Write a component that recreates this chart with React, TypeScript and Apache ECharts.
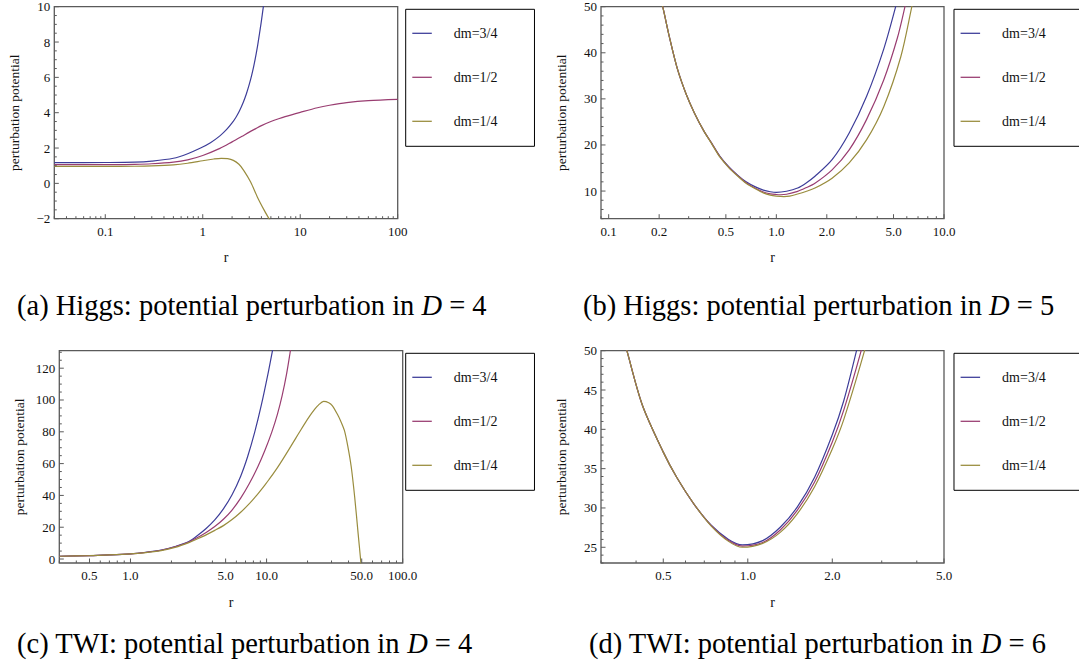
import React, { useEffect, useRef } from 'react';
import * as echarts from 'echarts';

const SERIES_NAMES = ['dm=3/4', 'dm=1/2', 'dm=1/4'];
const COLORS = ['#3d3d99', '#993d71', '#998c3d'];
const FONT = 'Liberation Serif';

// (a) Higgs, D = 4 : [r, V]
const higgsD4_34 = [[0.03, 1.17], [0.1, 1.18], [0.2, 1.2], [0.3, 1.26], [0.5, 1.42], [0.7, 1.68], [0.95, 2.0], [1.2, 2.3], [1.5, 2.69], [1.75, 3.04], [2.0, 3.42], [2.2, 3.76], [2.37, 4.08], [2.6, 4.58], [2.8, 5.06], [3.0, 5.6], [3.17, 6.1], [3.32, 6.58], [3.45, 7.03], [3.58, 7.51], [3.7, 7.98], [3.83, 8.51], [3.95, 9.0], [4.07, 9.51], [4.18, 9.98], [4.35, 10.74]];
const higgsD4_12 = [[0.03, 1.06], [0.1, 1.06], [0.2, 1.08], [0.3, 1.11], [0.5, 1.2], [0.7, 1.33], [1, 1.58], [1.5, 1.98], [2, 2.35], [2.5, 2.65], [3, 2.9], [3.5, 3.1], [4, 3.27], [5, 3.5], [6, 3.66], [7, 3.78], [10, 4.02], [15, 4.28], [20, 4.42], [30, 4.57], [50, 4.68], [100, 4.75]];
const higgsD4_14 = [[0.03, 0.96], [0.1, 0.96], [0.2, 0.97], [0.3, 0.99], [0.5, 1.05], [0.7, 1.14], [1, 1.28], [1.3, 1.38], [1.55, 1.42], [1.8, 1.4], [2.06, 1.3], [2.35, 1.08], [2.63, 0.74], [3.1, 0.08], [3.64, -0.78], [4.28, -1.53], [4.9, -2.1]];

// (b) Higgs, D = 5
const higgsD5_34 = [[0.205, 51], [0.21, 50], [0.23, 43.5], [0.257, 36.5], [0.29, 31], [0.325, 26.9], [0.37, 23], [0.411, 20.4], [0.46, 17.6], [0.52, 15.3], [0.59, 13.4], [0.66, 12.0], [0.75, 10.9], [0.836, 10.2], [0.92, 9.85], [1.0, 9.7], [1.15, 9.95], [1.34, 10.65], [1.5, 11.7], [1.7, 13.2], [2.15, 16.8], [2.72, 22.6], [3.45, 30.5], [4.37, 40.8], [5.15, 50], [5.3, 52]];
const higgsD5_12 = [[0.205, 51], [0.21, 50], [0.23, 43.5], [0.257, 36.5], [0.29, 31], [0.325, 26.9], [0.37, 23], [0.411, 20.4], [0.46, 17.5], [0.52, 15.2], [0.59, 13.3], [0.66, 11.8], [0.75, 10.6], [0.836, 9.8], [0.92, 9.4], [1.0, 9.25], [1.06, 9.2], [1.15, 9.3], [1.34, 9.93], [1.5, 10.7], [1.7, 11.7], [2.15, 14.6], [2.72, 18.95], [3.45, 25.5], [4.37, 34.1], [5.27, 43.2], [5.85, 50], [6.0, 52]];
const higgsD5_14 = [[0.205, 51], [0.21, 50], [0.23, 43.5], [0.257, 36.5], [0.29, 31], [0.325, 26.9], [0.37, 23], [0.411, 20.3], [0.46, 17.4], [0.52, 15.1], [0.59, 13.2], [0.66, 11.7], [0.75, 10.5], [0.836, 9.6], [0.92, 9.1], [1.0, 8.9], [1.11, 8.8], [1.2, 8.9], [1.34, 9.35], [1.5, 9.9], [1.7, 10.65], [2.15, 12.8], [2.72, 16.1], [3.45, 21.1], [4.37, 28.3], [5.53, 39.2], [6.43, 50], [6.6, 52]];

// (c) TWI, D = 4
const twiD4_34 = [[0.3, 1.75], [0.5, 2.1], [0.7, 2.6], [1, 3.3], [1.256, 4.1], [1.68, 5.6], [2.125, 7.9], [2.685, 11], [3.108, 14.8], [3.596, 19.2], [4.162, 24.6], [4.817, 31.5], [5.575, 40.4], [6.452, 52.1], [7.252, 64.3], [8.152, 79.3], [9.163, 97.1], [10.3, 117.6], [11.11, 132.1], [11.3, 136]];
const twiD4_12 = [[0.3, 1.75], [0.5, 2.1], [0.7, 2.6], [1, 3.3], [1.256, 4.05], [1.68, 5.5], [2.125, 7.7], [2.685, 10.7], [3.108, 13.5], [3.596, 16.7], [4.162, 20.4], [4.817, 25.0], [5.575, 30.8], [6.452, 38.3], [7.47, 47.5], [8.64, 58.2], [9.71, 68.2], [10.92, 79.8], [11.99, 90.8], [13.01, 102.7], [14.04, 116.6], [14.88, 129.7], [15.2, 135]];
const twiD4_14 = [[0.3, 1.75], [0.5, 2.1], [0.7, 2.55], [1, 3.2], [1.256, 3.9], [1.68, 5.3], [2.125, 7.3], [2.685, 10.3], [3.108, 12.7], [3.596, 15.2], [4.162, 18], [4.817, 21], [5.575, 24.8], [6.452, 29.4], [7.47, 34.8], [8.39, 39.7], [9.71, 46.5], [10.42, 50.0], [11.57, 55.4], [12.63, 60.3], [13.79, 65.5], [15.06, 70.8], [16.44, 76.2], [17.42, 79.7], [19.02, 85.0], [20.77, 90.0], [22.67, 94.4], [24.03, 96.8], [26.23, 99.1], [28.63, 98.3], [30.36, 96.5], [33.14, 91], [35.14, 86.5], [37.25, 81], [39.49, 71], [41.86, 58], [44.38, 39], [47.05, 16], [49.02, 0], [49.89, -7]];

// (d) TWI, D = 6
const twiD6_34 = [[0.365, 51], [0.371, 50], [0.421, 43.1], [0.5, 37.1], [0.558, 33.9], [0.643, 30.5], [0.741, 27.8], [0.854, 26.0], [0.956, 25.3], [1.13, 25.85], [1.305, 27.55], [1.5, 30.1], [1.73, 33.9], [2.0, 39.3], [2.2, 43.7], [2.44, 50], [2.47, 51]];
const twiD6_12 = [[0.365, 51], [0.371, 50], [0.421, 43.1], [0.5, 37.1], [0.558, 33.9], [0.643, 30.5], [0.741, 27.75], [0.854, 25.85], [0.956, 25.15], [1.13, 25.6], [1.305, 27.2], [1.5, 29.7], [1.73, 33.3], [2.0, 38.4], [2.2, 42.5], [2.535, 50], [2.56, 51]];
const twiD6_14 = [[0.365, 51], [0.371, 50], [0.421, 43.1], [0.5, 37.1], [0.558, 33.9], [0.643, 30.5], [0.741, 27.7], [0.854, 25.75], [0.956, 25.0], [1.13, 25.5], [1.305, 26.9], [1.5, 29.25], [1.73, 32.7], [2.0, 37.5], [2.2, 41.3], [2.606, 50], [2.63, 51]];

// Tick values and labels
const xMajorA = [0.1, 1, 10, 100];
const xLabelsA = ['0.1', '1', '10', '100'];
const xMinorA = [0.03, 0.04, 0.05, 0.06, 0.07, 0.08, 0.09, 0.2, 0.3, 0.4, 0.5, 0.6, 0.7, 0.8, 0.9, 2, 3, 4, 5, 6, 7, 8, 9, 20, 30, 40, 50, 60, 70, 80, 90];
const yMajorA = [-2, 0, 2, 4, 6, 8, 10];
const yLabelsA = ['\u22122', '0', '2', '4', '6', '8', '10'];
const yMinorA = [-1.5, -1, -0.5, 0.5, 1, 1.5, 2.5, 3, 3.5, 4.5, 5, 5.5, 6.5, 7, 7.5, 8.5, 9, 9.5];

const xMajorB = [0.1, 0.2, 0.5, 1, 2, 5, 10];
const xLabelsB = ['0.1', '0.2', '0.5', '1.0', '2.0', '5.0', '10.0'];
const xMinorB = [0.09, 0.3, 0.4, 0.6, 0.7, 0.8, 0.9, 3, 4, 6, 7, 8, 9];
const yMajorB = [10, 20, 30, 40, 50];
const yLabelsB = ['10', '20', '30', '40', '50'];
const yMinorB = [4, 6, 8, 12, 14, 16, 18, 22, 24, 26, 28, 32, 34, 36, 38, 42, 44, 46, 48];

const xMajorC = [0.5, 1, 5, 10, 50, 100];
const xLabelsC = ['0.5', '1.0', '5.0', '10.0', '50.0', '100.0'];
const xMinorC = [0.3, 0.4, 0.6, 0.7, 0.8, 0.9, 2, 3, 4, 6, 7, 8, 9, 20, 30, 40, 60, 70, 80, 90];
const yMajorC = [0, 20, 40, 60, 80, 100, 120];
const yLabelsC = ['0', '20', '40', '60', '80', '100', '120'];
const yMinorC = [5, 10, 15, 25, 30, 35, 45, 50, 55, 65, 70, 75, 85, 90, 95, 105, 110, 115, 125, 130];

const xMajorD = [0.5, 1, 2, 5];
const xLabelsD = ['0.5', '1.0', '2.0', '5.0'];
const xMinorD = [0.3, 0.4, 0.6, 0.7, 0.8, 0.9, 3, 4];
const yMajorD = [25, 30, 35, 40, 45, 50];
const yLabelsD = ['25', '30', '35', '40', '45', '50'];
const yMinorD = [23, 24, 26, 27, 28, 29, 31, 32, 33, 34, 36, 37, 38, 39, 41, 42, 43, 44, 46, 47, 48, 49];

const CAPTIONS = [
  '(a) Higgs: potential perturbation in {it|D} = 4',
  '(b) Higgs: potential perturbation in {it|D} = 5',
  '(c) TWI: potential perturbation in {it|D} = 4',
  '(d) TWI: potential perturbation in {it|D} = 6',
];

type Tick = { axis: 'x' | 'y'; v: number; major: boolean; label?: string };

function buildTicks(xMaj: number[], xLab: string[], xMin: number[], yMaj: number[], yLab: string[], yMin: number[]): Tick[] {
  const t: Tick[] = [];
  xMaj.forEach((v, i) => t.push({ axis: 'x', v, major: true, label: xLab[i] }));
  xMin.forEach((v) => t.push({ axis: 'x', v, major: false }));
  yMaj.forEach((v, i) => t.push({ axis: 'y', v, major: true, label: yLab[i] }));
  yMin.forEach((v) => t.push({ axis: 'y', v, major: false }));
  return t;
}

const FRAME = '#5a5a5a';

// Inward frame ticks and their labels, placed through the panel's own scales
function tickSeries(idx: number, ticks: Tick[], xLo: number, yLo: number) {
  return {
    type: 'custom',
    xAxisIndex: idx,
    yAxisIndex: idx,
    silent: true,
    clip: false,
    z: 5,
    data: ticks.map((t) => (t.axis === 'x' ? [t.v, yLo] : [xLo, t.v])),
    renderItem: (params: any, api: any) => {
      const t = ticks[params.dataIndex];
      const p = api.coord([api.value(0), api.value(1)]);
      const len = t.major ? 4.5 : 2.5;
      const isX = t.axis === 'x';
      const children: any[] = [
        {
          type: 'line',
          shape: { x1: p[0], y1: p[1], x2: isX ? p[0] : p[0] + len, y2: isX ? p[1] - len : p[1] },
          style: { stroke: FRAME, lineWidth: 1 },
        },
      ];
      if (t.label) {
        children.push({
          type: 'text',
          style: {
            text: t.label,
            x: isX ? p[0] : p[0] - 4,
            y: isX ? p[1] + 6 : p[1],
            align: isX ? 'center' : 'right',
            verticalAlign: isX ? 'top' : 'middle',
            fontSize: 13,
            fontFamily: FONT,
            fill: '#111',
          },
        });
      }
      return { type: 'group', children };
    },
  };
}

const PANELS = [
  { grid: { left: 54.3, top: 6.7, width: 343.4, height: 212 }, x: [0.03, 100], y: [-2, 10], legend: [405.7, 9.3], data: [higgsD4_34, higgsD4_12, higgsD4_14], ticks: buildTicks(xMajorA, xLabelsA, xMinorA, yMajorA, yLabelsA, yMinorA) },
  { grid: { left: 601, top: 6.7, width: 343, height: 212 }, x: [0.09, 10], y: [4, 50], legend: [954, 9.3], data: [higgsD5_34, higgsD5_12, higgsD5_14], ticks: buildTicks(xMajorB, xLabelsB, xMinorB, yMajorB, yLabelsB, yMinorB) },
  { grid: { left: 59.3, top: 350.7, width: 343.4, height: 212.3 }, x: [0.3, 100], y: [-2.5, 131], legend: [405.7, 353.3], data: [twiD4_34, twiD4_12, twiD4_14], ticks: buildTicks(xMajorC, xLabelsC, xMinorC, yMajorC, yLabelsC, yMinorC) },
  { grid: { left: 601, top: 350.7, width: 343, height: 212.3 }, x: [0.3, 5], y: [23, 50], legend: [954, 353.3], data: [twiD6_34, twiD6_12, twiD6_14], ticks: buildTicks(xMajorD, xLabelsD, xMinorD, yMajorD, yLabelsD, yMinorD) },
];

const CAPTION_POS = [
  [17, 291],
  [583, 291],
  [17, 629],
  [589, 629],
];

const LEGEND_LINE = 'path://M0 0 H20 V1.3 H0 Z';

export default function App() {
  const ref = useRef<HTMLDivElement>(null);

  useEffect(() => {
    if (!ref.current) return;
    const chart = echarts.init(ref.current, undefined, { renderer: 'svg' });

    const grid = PANELS.map((p) => ({
      ...p.grid,
      show: true,
      borderColor: FRAME,
      borderWidth: 1.3,
      backgroundColor: 'transparent',
      containLabel: false,
    }));

    const xAxis = PANELS.map((p, i) => ({
      type: 'log',
      logBase: 10,
      gridIndex: i,
      min: p.x[0],
      max: p.x[1],
      name: 'r',
      nameLocation: 'middle',
      nameGap: 32,
      nameTextStyle: { fontFamily: FONT, fontSize: 14, color: '#111' },
      axisLine: { show: false },
      axisTick: { show: false },
      axisLabel: { show: false },
      splitLine: { show: false },
      minorTick: { show: false },
    }));

    const yAxis = PANELS.map((p, i) => ({
      type: 'value',
      gridIndex: i,
      min: p.y[0],
      max: p.y[1],
      name: 'perturbation potential',
      nameLocation: 'middle',
      nameGap: 33,
      nameTextStyle: { fontFamily: FONT, fontSize: 13.5, color: '#111' },
      axisLine: { show: false },
      axisTick: { show: false },
      axisLabel: { show: false },
      splitLine: { show: false },
    }));

    const series: any[] = [];
    PANELS.forEach((p, i) => {
      p.data.forEach((d, k) => {
        series.push({
          type: 'line',
          name: SERIES_NAMES[k],
          xAxisIndex: i,
          yAxisIndex: i,
          data: d,
          smooth: 0.3,
          symbol: 'none',
          clip: true,
          lineStyle: { color: COLORS[k], width: 1.2 },
          itemStyle: { color: COLORS[k] },
          z: 3,
        });
      });
      series.push(tickSeries(i, p.ticks, p.x[0], p.y[0]));
    });

    const legend = PANELS.map((p) => ({
      data: SERIES_NAMES.map((name) => ({ name, icon: LEGEND_LINE })),
      orient: 'vertical',
      left: p.legend[0],
      top: p.legend[1],
      selectedMode: false,
      borderColor: '#000',
      borderWidth: 1,
      backgroundColor: '#fff',
      padding: [17, 37, 18, 6.6],
      itemWidth: 19.5,
      itemHeight: 14,
      itemGap: 30,
      symbolKeepAspect: true,
      itemStyle: { borderWidth: 0 },
      textStyle: { fontFamily: FONT, fontSize: 14, color: '#111', lineHeight: 14, padding: [0, 0, 0, 17] },
    }));

    const title = CAPTIONS.map((c, i) => ({
      text: c,
      left: CAPTION_POS[i][0],
      top: CAPTION_POS[i][1],
      padding: 0,
      textStyle: {
        fontFamily: FONT,
        fontSize: 28.5,
        fontWeight: 'normal',
        color: '#000',
        rich: { it: { fontFamily: FONT, fontSize: 28.5, fontStyle: 'italic', color: '#000' } },
      },
    }));

    chart.setOption({
      animation: false,
      backgroundColor: '#fff',
      title,
      grid,
      xAxis,
      yAxis,
      legend,
      series,
    });

    return () => chart.dispose();
  }, []);

  return <div ref={ref} style={{ position: 'absolute', left: 0, top: 0, width: 1079, height: 667 }} />;
}
